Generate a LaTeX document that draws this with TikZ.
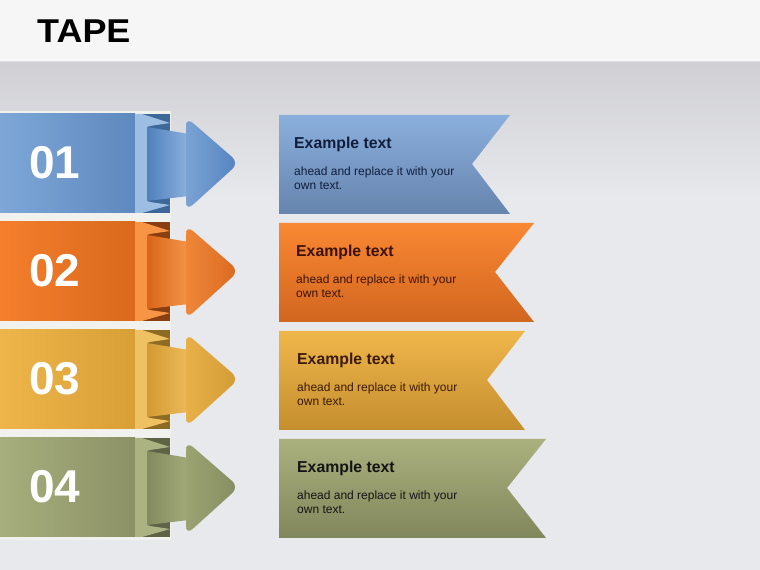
\documentclass[tikz,border=0pt]{standalone}
\usepackage{fontspec}
\setmainfont{Liberation Sans}
\definecolor{hdr}{HTML}{F6F6F6}
\definecolor{hdrLine}{HTML}{DEDEE0}
\definecolor{bgA}{HTML}{CFCFD4}
\definecolor{bgB}{HTML}{E8E9ED}
\definecolor{gapc}{HTML}{F1F1EE}
% row 1 blue
\definecolor{bandL1}{HTML}{7EA7D8}\definecolor{bandR1}{HTML}{5E89BE}
\definecolor{foldD1}{HTML}{3E6899}\definecolor{foldL1}{HTML}{9DBEE3}
\definecolor{shaftL1}{HTML}{4F80BC}\definecolor{shaftR1}{HTML}{8DB2DD}
\definecolor{headL1}{HTML}{7AA3D4}\definecolor{headR1}{HTML}{5483BF}
\definecolor{banT1}{HTML}{8BAFDC}\definecolor{banB1}{HTML}{6584AE}
\definecolor{txt1}{HTML}{101E3C}
% row 2 orange
\definecolor{bandL2}{HTML}{F47E2C}\definecolor{bandR2}{HTML}{D9691C}
\definecolor{foldD2}{HTML}{8A3F12}\definecolor{foldL2}{HTML}{F79545}
\definecolor{shaftL2}{HTML}{D9661A}\definecolor{shaftR2}{HTML}{F49548}
\definecolor{headL2}{HTML}{EF8638}\definecolor{headR2}{HTML}{D96A20}
\definecolor{banT2}{HTML}{F98833}\definecolor{banB2}{HTML}{D2661F}
\definecolor{txt2}{HTML}{3C1206}
% row 3 gold
\definecolor{bandL3}{HTML}{EDB54A}\definecolor{bandR3}{HTML}{D89F36}
\definecolor{foldD3}{HTML}{8E6B23}\definecolor{foldL3}{HTML}{F0C163}
\definecolor{shaftL3}{HTML}{D49A33}\definecolor{shaftR3}{HTML}{EDBB5A}
\definecolor{headL3}{HTML}{E8B048}\definecolor{headR3}{HTML}{D39B35}
\definecolor{banT3}{HTML}{EFB64B}\definecolor{banB3}{HTML}{C58E2E}
\definecolor{txt3}{HTML}{3A1A08}
% row 4 olive
\definecolor{bandL4}{HTML}{A7AE7D}\definecolor{bandR4}{HTML}{8B9165}
\definecolor{foldD4}{HTML}{5E6346}\definecolor{foldL4}{HTML}{ACB383}
\definecolor{shaftL4}{HTML}{838A5E}\definecolor{shaftR4}{HTML}{A4AB7A}
\definecolor{headL4}{HTML}{9CA372}\definecolor{headR4}{HTML}{858C60}
\definecolor{banT4}{HTML}{AAB07D}\definecolor{banB4}{HTML}{81875C}
\definecolor{txt4}{HTML}{141414}
\tikzset{
  numstyle/.style={text=white, font=\bfseries\fontsize{46}{46}\selectfont, inner sep=0pt},
  extitle/.style={anchor=west, inner sep=0pt, font=\bfseries\fontsize{15.8}{16}\selectfont},
  exbody/.style={anchor=west, inner sep=0pt, align=left, font=\fontsize{12}{14}\selectfont},
}
\begin{document}
\begin{tikzpicture}[x=1pt,y=1pt]
\useasboundingbox (0,0) rectangle (760,570);
% background
\fill[hdr] (0,508) rectangle (760,570);
\shade[top color=bgA,bottom color=bgB] (0,370) rectangle (760,508);
\fill[bgB] (0,0) rectangle (760,370);
\draw[line width=1pt, hdrLine] (0,508) -- (760,508);
\node[anchor=west, inner sep=0pt, xscale=1.09, font=\bfseries\fontsize{33}{33}\selectfont] (title) at (37,539) {TAPE};
\fill[gapc] (0,30) rectangle (171,459);
\foreach \i/\T/\R/\N/\tx in {1/456/510/472/294, 2/348/534/495/296, 3/240/525/487/297, 4/132/546/507/297}{
\begin{scope}[shift={(0,\T)}]
  \shade[left color=bandL\i, right color=bandR\i] (0,0) rectangle (135,-99);
  \fill[foldD\i] (135,0) rectangle (170,-99);
  \fill[foldL\i] (135,0) -- (142,0) -- (170,-9) -- (150,-12) -- (147,-13) -- (147,-87) -- (150,-88) -- (170,-91) -- (142,-99) -- (135,-99) -- cycle;
  \shade[left color=shaftL\i, right color=shaftR\i] (147,-13) -- (189,-20) -- (189,-82) -- (147,-87) -- cycle;
  \shade[left color=headL\i, right color=headR\i, rounded corners=9pt] (186,-50) -- (186,-3) -- (239,-49) -- (186,-97) -- cycle;
  \node[numstyle] (num\i) at (55,-49) {0\i};
  \shade[top color=banT\i, bottom color=banB\i] (279,-1) -- (\R,-1) -- (\N,-50) -- (\R,-100) -- (279,-100) -- cycle;
  \node[extitle, text=txt\i] (ex\i) at (\tx,-30) {Example text};
  \node[exbody, text=txt\i] (body\i) at (\tx,-64) {ahead and replace it with your\\own text.};
\end{scope}
}
\end{tikzpicture}
\end{document}
